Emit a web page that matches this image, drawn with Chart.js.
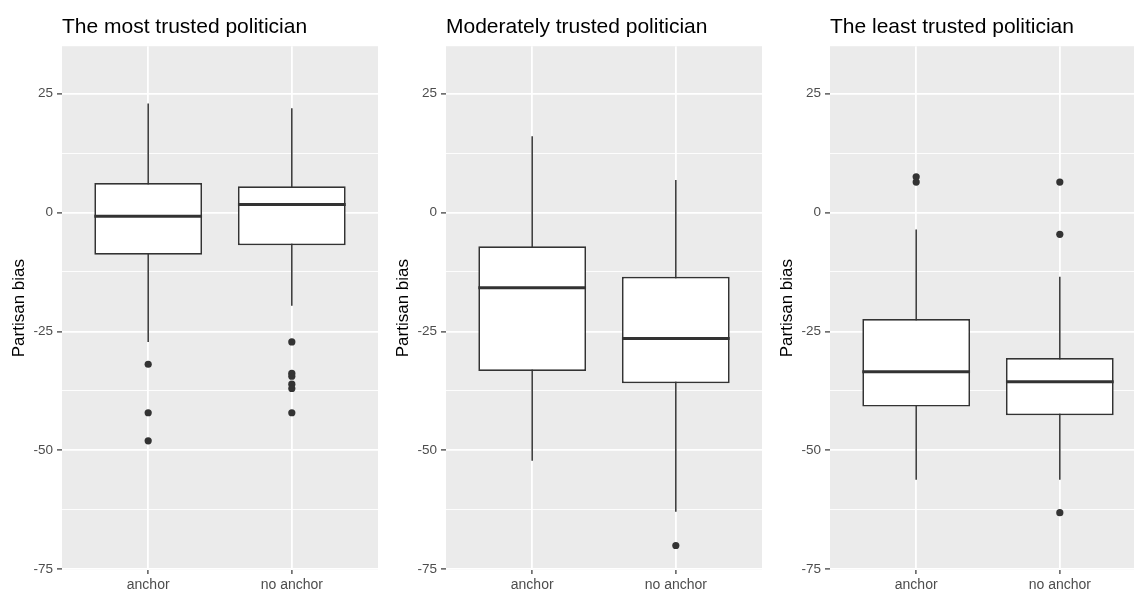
<!DOCTYPE html>
<html>
<head>
<meta charset="utf-8">
<script src="https://cdn.jsdelivr.net/npm/chart.js@4.4.1/dist/chart.umd.min.js"></script>
<style>
  html, body { margin: 0; padding: 0; background: #fff; }
  body { width: 1134px; height: 590px; overflow: hidden; position: relative; }
  canvas { position: absolute; top: 0; }
</style>
</head>
<body>
<canvas id="p1" width="378" height="590" style="left:0px"></canvas>
<canvas id="p2" width="378" height="590" style="left:384px"></canvas>
<canvas id="p3" width="378" height="590" style="left:768px"></canvas>
<script>
// Groups on the x axis
const categories = ['anchor', 'no anchor'];
const panelTitles = ['The most trusted politician', 'Moderately trusted politician', 'The least trusted politician'];
const yAxisTitle = 'Partisan bias';
const yMajorTicks = [-75, -50, -25, 0, 25];
const yMinorTicks = [-62.5, -37.5, -12.5, 12.5];

// The most trusted politician: five-number summaries per group
const mostLower  = [-27.2, -19.6];
const mostQ1     = [-8.9, -6.9];
const mostMedian = [-0.8, 1.7];
const mostQ3     = [6.2, 5.5];
const mostUpper  = [22.9, 21.9];
const mostOutliersAnchor   = [-31.9, -42.1, -48.0];
const mostOutliersNoAnchor = [-27.2, -33.8, -34.4, -36.1, -37.0, -42.1];

// Moderately trusted politician
const modLower  = [-52.2, -62.9];
const modQ1     = [-33.3, -35.9];
const modMedian = [-15.8, -26.5];
const modQ3     = [-7.1, -13.5];
const modUpper  = [16.0, 6.8];
const modOutliersAnchor   = [];
const modOutliersNoAnchor = [-70.0];

// The least trusted politician
const leastLower  = [-56.2, -56.2];
const leastQ1     = [-40.8, -42.6];
const leastMedian = [-33.5, -35.6];
const leastQ3     = [-22.4, -30.6];
const leastUpper  = [-3.6, -13.5];
const leastOutliersAnchor   = [7.5, 6.4];
const leastOutliersNoAnchor = [6.4, -4.6, -63.1];

const FONT = '"Liberation Sans", Arial, Helvetica, sans-serif';
const INK = '#333333';

// Grey panel background behind the grid
const panelBackground = {
  id: 'panelBackground',
  beforeDraw(chart) {
    const a = chart.chartArea, c = chart.ctx;
    c.save();
    c.fillStyle = '#EBEBEB';
    c.fillRect(a.left, a.top, a.right - a.left, a.bottom - a.top);
    c.restore();
  }
};

// Thick median line across each box
const medianLines = {
  id: 'medianLines',
  afterDatasetsDraw(chart, args, opts) {
    const meta = chart.getDatasetMeta(opts.datasetIndex);
    const yScale = chart.scales.y;
    const c = chart.ctx;
    c.save();
    c.strokeStyle = INK;
    c.lineWidth = 3;
    meta.data.forEach((bar, i) => {
      const p = bar.getProps(['x', 'width'], true);
      const py = yScale.getPixelForValue(opts.values[i]);
      c.beginPath();
      c.moveTo(p.x - p.width / 2, py);
      c.lineTo(p.x + p.width / 2, py);
      c.stroke();
    });
    c.restore();
  }
};

// Axes keep no extra room for overhanging tick labels
function noLabelPadding(s) {
  s.paddingLeft = 0; s.paddingRight = 0; s.paddingTop = 0; s.paddingBottom = 0;
}

function drawPanel(canvasId, title, lower, q1, median, q3, upper, outliers) {
  const boxData = categories.map((c, i) => ({ x: i + 1, y: [q1[i], q3[i]] }));
  const whiskerData = categories.map((c, i) => ({ x: i + 1, y: [lower[i], upper[i]] }));
  const outlierData = outliers.flatMap((vals, i) => vals.map(v => ({ x: i + 1, y: v })));
  const isMajor = v => yMajorTicks.includes(v);

  new Chart(document.getElementById(canvasId), {
    type: 'bar',
    data: {
      datasets: [
        {
          type: 'scatter', data: outlierData, order: 0,
          pointRadius: 3.6, pointBackgroundColor: INK, pointBorderWidth: 0
        },
        {
          type: 'bar', data: boxData, order: 1, grouped: false,
          categoryPercentage: 0.75, barPercentage: 1,
          backgroundColor: '#FFFFFF', borderColor: INK, borderWidth: 1.7, borderSkipped: false
        },
        {
          type: 'bar', data: whiskerData, order: 2, grouped: false,
          categoryPercentage: 0.75, barPercentage: 1, maxBarThickness: 1.5,
          backgroundColor: INK, borderWidth: 0
        }
      ]
    },
    options: {
      responsive: false,
      animation: false,
      events: [],
      layout: { padding: 0, autoPadding: false },
      plugins: {
        legend: { display: false },
        tooltip: { enabled: false },
        title: {
          display: true, text: title, align: 'start', fullSize: false,
          color: '#000', font: { family: FONT, size: 21, weight: 'normal', lineHeight: 1.2 },
          padding: { top: 15, bottom: 6 }
        },
        medianLines: { datasetIndex: 1, values: median }
      },
      scales: {
        x: {
          type: 'linear', min: 0.4, max: 2.6, offset: false,
          afterBuildTicks: axis => { axis.ticks = categories.map((c, i) => ({ value: i + 1 })); },
          afterFit: s => { s.height = 20; noLabelPadding(s); },
          ticks: {
            callback: v => categories[v - 1], autoSkip: false, maxRotation: 0,
            color: '#4D4D4D', font: { family: FONT, size: 14 }, padding: 3
          },
          grid: {
            offset: false, color: '#FFFFFF', lineWidth: 1.8,
            tickColor: INK, tickLength: 4, tickWidth: 1.2
          },
          border: { display: false }
        },
        y: {
          type: 'linear', min: -75.15, max: 34.95,
          afterBuildTicks: axis => {
            axis.ticks = yMajorTicks.concat(yMinorTicks).sort((a, b) => a - b).map(v => ({ value: v }));
          },
          afterFit: s => { s.width = 62; noLabelPadding(s); },
          ticks: {
            callback: v => (isMajor(v) ? String(v) : ''), autoSkip: false,
            color: '#4D4D4D', font: { family: FONT, size: 13.5 }, padding: 4
          },
          grid: {
            color: '#FFFFFF',
            lineWidth: ctx => (isMajor(ctx.tick.value) ? 1.8 : 0.9),
            tickColor: ctx => (isMajor(ctx.tick.value) ? INK : 'rgba(0,0,0,0)'),
            tickLength: 5, tickWidth: 1.2
          },
          border: { display: false },
          title: {
            display: true, text: yAxisTitle, color: '#000',
            font: { family: FONT, size: 17, lineHeight: 1.2 },
            padding: { top: 9, bottom: 0 }
          }
        }
      }
    },
    plugins: [panelBackground, medianLines]
  });
}

drawPanel('p1', panelTitles[0], mostLower, mostQ1, mostMedian, mostQ3, mostUpper,
  [mostOutliersAnchor, mostOutliersNoAnchor]);
drawPanel('p2', panelTitles[1], modLower, modQ1, modMedian, modQ3, modUpper,
  [modOutliersAnchor, modOutliersNoAnchor]);
drawPanel('p3', panelTitles[2], leastLower, leastQ1, leastMedian, leastQ3, leastUpper,
  [leastOutliersAnchor, leastOutliersNoAnchor]);
</script>
</body>
</html>
